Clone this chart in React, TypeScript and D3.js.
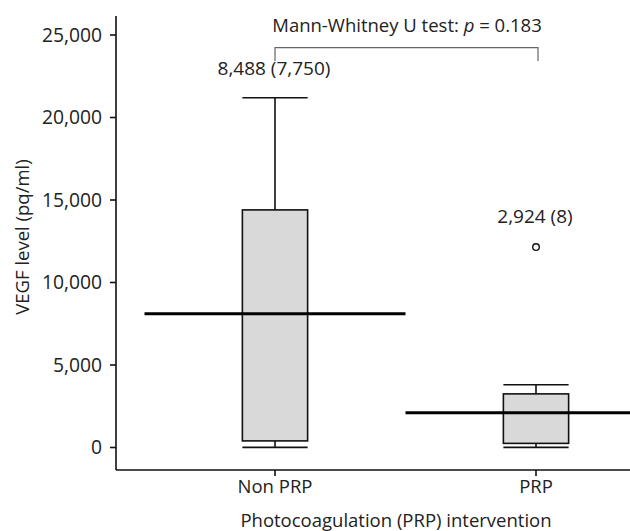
import React from "react";
import * as d3 from "d3";

const categories = ["Non PRP", "PRP"];
const whiskerLow = [10, 10];
const q1 = [400, 250];
const q3 = [14400, 3250];
const whiskerHigh = [21200, 3800];
const centerLine = [8100, 2100];
const outliers = [[], [12150]];
const summaryLabels = ["8,488 (7,750)", "2,924 (8)"];
const summaryLabelValues = [23000, 14000];
const yTicks = [0, 5000, 10000, 15000, 20000, 25000];

const W = 630;
const H = 531;
const FONT = "'Open Sans', 'Noto Sans', sans-serif";
const FS = 18.5;

export default function App() {
  const y = d3.scaleLinear().domain([0, 25000]).range([447.5, 35]);
  const x = d3.scaleBand().domain(categories).range([144.5, 666.5]).padding(0);
  const bw = x.bandwidth();
  const boxW = bw * 0.25;
  const axisX = 116;
  const axisTop = 16;
  const axisBottom = 470;
  const fmt = d3.format(",");
  const cx = (c: string) => (x(c) as number) + bw / 2;
  const bracketY = 47.7;
  const bracketBottom = 61;

  return (
    <svg width={W} height={H} style={{ position: "absolute", left: 0, top: 0, background: "#fff" }} fontFamily={FONT}>
      {categories.map((c, i) => {
        const m = cx(c);
        return (
          <g key={c}>
            <line x1={m} x2={m} y1={y(q3[i])} y2={y(whiskerHigh[i])} stroke="#111" strokeWidth={1.6} />
            <line x1={m} x2={m} y1={y(q1[i])} y2={y(whiskerLow[i])} stroke="#111" strokeWidth={1.6} />
            <line x1={m - boxW / 2} x2={m + boxW / 2} y1={y(whiskerHigh[i])} y2={y(whiskerHigh[i])} stroke="#111" strokeWidth={1.6} />
            <line x1={m - boxW / 2} x2={m + boxW / 2} y1={y(whiskerLow[i])} y2={y(whiskerLow[i])} stroke="#111" strokeWidth={1.6} />
            <rect x={m - boxW / 2} y={y(q3[i])} width={boxW} height={y(q1[i]) - y(q3[i])} fill="#d9d9d9" stroke="#111" strokeWidth={1.6} />
            <line x1={x(c) as number} x2={(x(c) as number) + bw} y1={y(centerLine[i])} y2={y(centerLine[i])} stroke="#000" strokeWidth={3} />
            {outliers[i].map((v, j) => (
              <circle key={j} cx={m} cy={y(v)} r={3.3} fill="#fff" stroke="#111" strokeWidth={1.4} />
            ))}
            <text x={m - 1} y={y(summaryLabelValues[i])} dy="0.35em" textAnchor="middle" fontSize={19} fill="#222">
              {summaryLabels[i]}
            </text>
          </g>
        );
      })}

      <line x1={axisX} x2={axisX} y1={axisTop} y2={axisBottom} stroke="#111" strokeWidth={1.6} />
      {yTicks.map((t) => (
        <g key={t}>
          <line x1={axisX - 6} x2={axisX} y1={y(t)} y2={y(t)} stroke="#111" strokeWidth={1.6} />
          <text x={axisX - 14} y={y(t)} dy="0.36em" textAnchor="end" fontSize={19.3} fill="#222">
            {fmt(t)}
          </text>
        </g>
      ))}
      <text transform={`translate(23,237) rotate(-90)`} textAnchor="middle" dy="0.35em" fontSize={FS} fill="#222">
        VEGF level (pq/ml)
      </text>

      <line x1={axisX} x2={W} y1={axisBottom} y2={axisBottom} stroke="#111" strokeWidth={1.6} />
      {categories.map((c) => (
        <g key={c}>
          <line x1={cx(c)} x2={cx(c)} y1={axisBottom} y2={axisBottom + 6} stroke="#111" strokeWidth={1.6} />
          <text x={cx(c)} y={493} textAnchor="middle" fontSize={FS} fill="#222">
            {c}
          </text>
        </g>
      ))}
      <text x={396} y={527} textAnchor="middle" fontSize={FS} fill="#222">
        Photocoagulation (PRP) intervention
      </text>

      <path
        d={`M${cx(categories[0])},${bracketBottom}V${bracketY}H${cx(categories[1]) + 2}V${bracketBottom}`}
        fill="none"
        stroke="#666"
        strokeWidth={1.2}
      />
      <text x={407} y={31.5} textAnchor="middle" fontSize={FS} fill="#222">
        Mann-Whitney U test: <tspan fontStyle="italic">p</tspan> = 0.183
      </text>
    </svg>
  );
}
